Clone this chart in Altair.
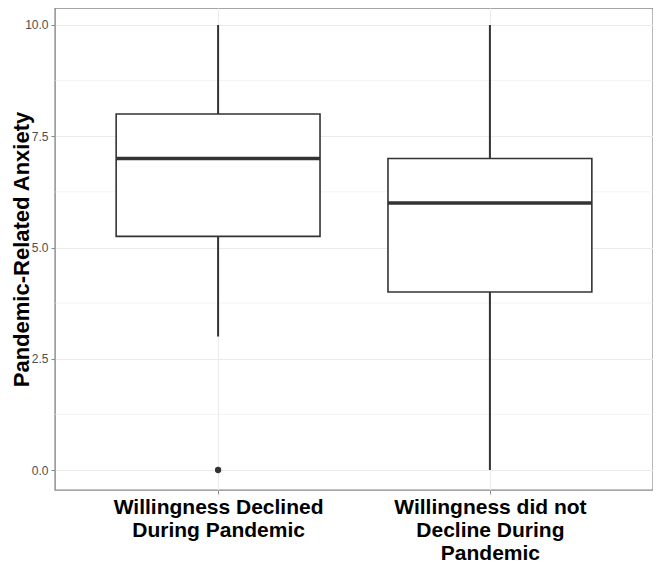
import altair as alt
import pandas as pd

# ---- data ----
categories = ["Willingness Declined During Pandemic",
              "Willingness did not Decline During Pandemic"]
label_lines = [["Willingness Declined", "During Pandemic"],
               ["Willingness did not", "Decline During", "Pandemic"]]
whisker_low = [3.0, 0.0]
q1 = [5.25, 4.0]
median = [7.0, 6.0]
q3 = [8.0, 7.0]
whisker_high = [10.0, 10.0]
outlier_cat = [0]
outlier_val = [0.0]
y_major = [0.0, 2.5, 5.0, 7.5, 10.0]
y_minor = [1.25, 3.75, 6.25, 8.75]

half = 0.375
box = pd.DataFrame({
    "cat": categories,
    "pos": [i + 1 for i in range(len(categories))],
    "lo": whisker_low, "q1": q1, "med": median, "q3": q3, "hi": whisker_high,
})
box["left"] = box["pos"] - half
box["right"] = box["pos"] + half
out = pd.DataFrame({"pos": [c + 1 for c in outlier_cat], "val": outlier_val})
minor = pd.DataFrame({"v": y_minor})

FONT = "Liberation Sans"
DARK = "#333333"
W, H = 598, 482

label_expr = " : ".join(
    f"datum.value == {i + 1} ? {lines!r}" for i, lines in enumerate(label_lines)
) + " : ''"

xscale = alt.Scale(domain=[0.4, 2.6], nice=False, zero=False)
yscale = alt.Scale(domain=[-0.449, 10.382], nice=False, zero=False)

xaxis = alt.Axis(values=[1, 2], labelExpr=label_expr, title=None,
                 labelFont=FONT, labelFontSize=21, labelFontWeight="bold",
                 labelColor="black", labelLineHeight=23, labelPadding=2,
                 labelLimit=600,
                 tickColor="#888888", tickSize=4, domain=False,
                 grid=True, gridColor="#ebebeb", gridWidth=1.1)
yaxis = alt.Axis(values=y_major, format=".1f", title="Pandemic-Related Anxiety",
                 labelFont=FONT, labelFontSize=12, labelColor="#4d4d4d",
                 labelPadding=3,
                 titleFont=FONT, titleFontSize=22, titleFontWeight="bold",
                 titleColor="black", titleAngle=270, titleBaseline="alphabetic",
                 titleX=-27, titleY=H / 2, titleAlign="center",
                 tickColor="#888888", tickSize=4, domain=False,
                 grid=True, gridColor="#ebebeb", gridWidth=1.1)

minor_grid = alt.Chart(minor).mark_rule(color="#ebebeb", strokeWidth=0.6).encode(
    y=alt.Y("v:Q", scale=yscale, axis=yaxis),
    x=alt.value(0), x2=alt.value(W),
)

whisk_lo = alt.Chart(box).mark_rule(color=DARK, strokeWidth=2).encode(
    x=alt.X("pos:Q", scale=xscale, axis=xaxis),
    y=alt.Y("lo:Q", scale=yscale), y2="q1:Q",
)
whisk_hi = alt.Chart(box).mark_rule(color=DARK, strokeWidth=2).encode(
    x=alt.X("pos:Q", scale=xscale), y=alt.Y("q3:Q", scale=yscale), y2="hi:Q",
)
rect = alt.Chart(box).mark_rect(fill="white", stroke=DARK, strokeWidth=1.6).encode(
    x=alt.X("left:Q", scale=xscale), x2="right:Q",
    y=alt.Y("q1:Q", scale=yscale), y2="q3:Q",
)
med = alt.Chart(box).mark_rule(color=DARK, strokeWidth=3.5).encode(
    x=alt.X("left:Q", scale=xscale), x2="right:Q",
    y=alt.Y("med:Q", scale=yscale),
)
pts = alt.Chart(out).mark_circle(color=DARK, size=40, opacity=1).encode(
    x=alt.X("pos:Q", scale=xscale), y=alt.Y("val:Q", scale=yscale),
)

chart = alt.layer(minor_grid, whisk_lo, whisk_hi, rect, med, pts).properties(
    width=W, height=H,
    autosize=alt.AutoSizeParams(type="none"),
    padding={"left": 47, "top": 0, "right": 0, "bottom": 72},
).configure_view(stroke="#888888", strokeWidth=1.4)

chart.save("out.html", embed_options={"renderer": "svg", "actions": False})
